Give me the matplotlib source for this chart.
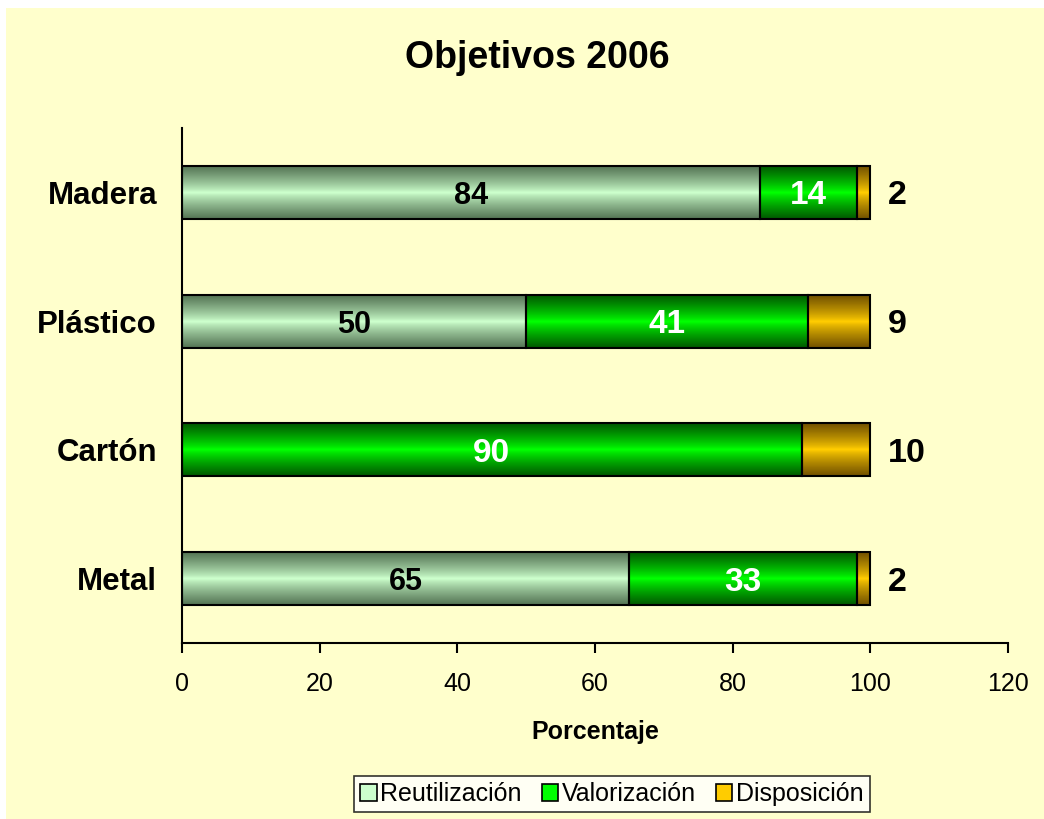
import numpy as np
import matplotlib.pyplot as plt
from matplotlib.colors import LinearSegmentedColormap
from matplotlib.patches import Rectangle

plt.rcParams['font.family'] = ['Liberation Sans', 'DejaVu Sans']

# data (bottom to top)
categories = ['Metal', 'Cartón', 'Plástico', 'Madera']
reutilizacion = [65, 0, 50, 84]
valorizacion = [33, 90, 41, 14]
disposicion = [2, 10, 9, 2]
series_names = ['Reutilización', 'Valorización', 'Disposición']
xticks = [0, 20, 40, 60, 80, 100, 120]

bg = '#ffffcc'
edge_cols = ['#557555', '#005a00', '#735200']
mid_cols = ['#ccffcc', '#00ff00', '#ffcc00']

fig = plt.figure(figsize=(10.44, 8.19), dpi=100)
fig.patch.set_facecolor('white')
fig.patches.append(Rectangle((6 / 1044, 0), 1, 1 - 8 / 819,
                             transform=fig.transFigure, facecolor=bg,
                             edgecolor='none', zorder=-10))

ax = fig.add_axes([182 / 1044, 1 - 643 / 819, 826 / 1044, 515 / 819])
ax.set_facecolor(bg)

ypos = np.arange(len(categories))
height = 0.41
gvals = np.abs(np.linspace(-1, 1, 64)) ** 0.8
grad = (1 - gvals).reshape(-1, 1)

series = [reutilizacion, valorizacion, disposicion]
cmaps = [LinearSegmentedColormap.from_list('g%d' % s, [edge_cols[s], mid_cols[s]])
         for s in range(3)]
left = np.zeros(len(categories))
for s, vals in enumerate(series):
    vals = np.array(vals, dtype=float)
    for i, v in enumerate(vals):
        if v <= 0:
            continue
        ax.imshow(grad, cmap=cmaps[s], aspect='auto', interpolation='bilinear',
                  extent=(left[i], left[i] + v, ypos[i] - height / 2, ypos[i] + height / 2),
                  zorder=2)
    ax.barh(ypos, vals, left=left, height=height, facecolor='none',
            edgecolor='black', linewidth=1.5, zorder=3)
    left += vals

# value labels
for i in range(len(categories)):
    r, v, d = reutilizacion[i], valorizacion[i], disposicion[i]
    if r > 0:
        ax.text(r / 2, ypos[i], str(r), ha='center', va='center_baseline',
                fontsize=22, fontweight='bold', color='black', zorder=4)
    ax.text(r + v / 2, ypos[i], str(v), ha='center', va='center_baseline',
            fontsize=24, fontweight='bold', color='white', zorder=4)
    ax.text(102.6, ypos[i], str(d), ha='left', va='center_baseline',
            fontsize=24.5, fontweight='bold', color='black', zorder=4)

ax.set_xlim(0, 120)
ax.set_ylim(-0.5, 3.5)
ax.set_xticks(xticks)
ax.tick_params(axis='x', labelsize=18, length=7, width=1.5, pad=14)
ax.set_yticks(ypos)
ax.set_yticklabels(categories, fontsize=22.5, fontweight='bold')
ax.tick_params(axis='y', length=0, pad=18)
for sp in ['top', 'right']:
    ax.spines[sp].set_visible(False)
ax.spines['left'].set_linewidth(1.5)
ax.spines['bottom'].set_linewidth(1.5)
ax.set_xlabel('Porcentaje', fontsize=18, fontweight='bold', labelpad=17)

fig.text(537 / 1044, 1 - 58 / 819, 'Objetivos 2006', ha='center', va='center',
         fontsize=27, fontweight='bold')

handles = [plt.Rectangle((0, 0), 1, 1, facecolor=mid_cols[k], edgecolor='black',
                         linewidth=1.2) for k in range(3)]
leg = fig.legend(handles, series_names, loc='center', ncol=3,
                 bbox_to_anchor=(612 / 1044, 1 - 794 / 819), fontsize=18,
                 frameon=True, fancybox=False, edgecolor='black',
                 handlelength=0.65, handleheight=0.65, handletextpad=0.15,
                 columnspacing=0.8, borderpad=0.25, borderaxespad=0)
leg.get_frame().set_facecolor('white')
leg.get_frame().set_linewidth(1.2)

fig.savefig('out.png', dpi=100, facecolor=fig.get_facecolor())
